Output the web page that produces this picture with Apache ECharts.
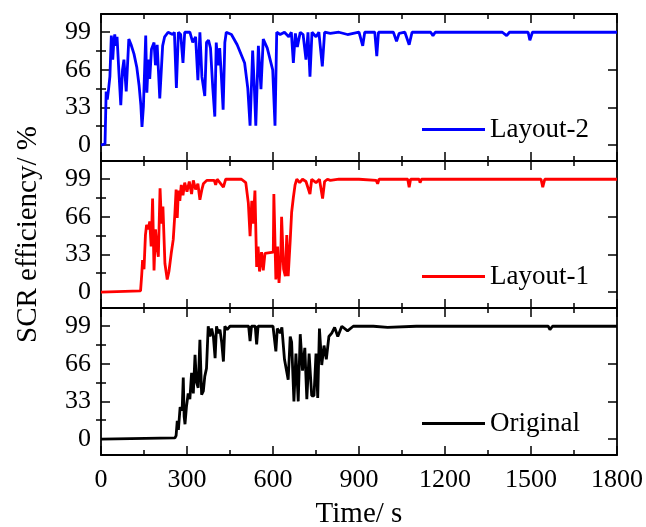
<!DOCTYPE html>
<html>
<head>
<meta charset="utf-8">
<script src="https://cdn.jsdelivr.net/npm/echarts@6/dist/echarts.min.js"></script>
<style>
  html, body { margin: 0; padding: 0; background: #fff; }
  #chart { width: 646px; height: 527px; }
</style>
</head>
<body>
<div id="chart"></div>
<script>
// y ticks (major / minor)
const yMajor = [0, 33, 66, 99]
const yMinor = [16.5, 49.5, 82.5]

// Layout-2 (blue, top panel)
const timeL2 = [0, 14, 18, 22, 26, 31, 36, 41, 45, 48, 52, 56, 62, 69, 75, 80, 88, 97, 105, 115, 125, 133, 139, 143, 148, 156, 160, 165, 170, 176, 185, 190, 196, 205, 215, 222, 234, 250, 256, 263, 270, 278, 286, 292, 310, 320, 330, 338, 345, 352, 362, 368, 375, 382, 390, 397, 402, 408, 414, 420, 426, 432, 437, 455, 475, 501, 512, 520, 529, 535, 540, 549, 558, 566, 580, 599, 607, 613, 625, 640, 655, 664, 671, 678, 685, 695, 705, 715, 722, 729, 736, 750, 760, 772, 780, 800, 830, 860, 900, 913, 920, 955, 962, 968, 1020, 1031, 1040, 1060, 1075, 1085, 1150, 1158, 1166, 1400, 1415, 1425, 1490, 1496, 1505, 1800]
const effL2 = [0, 1, 47, 40, 48, 60, 96, 75, 92, 97, 87, 95, 66, 35, 66, 75, 47, 93, 88, 80, 68, 52, 35, 16, 34, 96, 46, 75, 58, 84, 90, 70, 88, 41, 87, 95, 99, 97, 99, 50, 99, 97, 72, 99, 99, 90, 95, 57, 99, 60, 43, 90, 92, 85, 50, 25, 90, 70, 85, 60, 31, 90, 99, 97, 88, 72, 50, 17, 83, 50, 17, 87, 49, 93, 85, 66, 17, 99, 97, 99, 95, 99, 72, 98, 86, 99, 97, 75, 99, 60, 99, 95, 99, 69, 99, 98, 99, 97, 99, 87, 99, 99, 78, 99, 99, 91, 98, 99, 88, 99, 99, 96, 99, 99, 96, 99, 99, 92, 99, 99]

// Layout-1 (red, middle panel)
const timeL1 = [0, 138, 142, 145, 150, 155, 159, 165, 170, 175, 180, 185, 190, 195, 200, 206, 211, 216, 223, 231, 237, 245, 252, 258, 262, 266, 270, 275, 280, 286, 292, 300, 308, 316, 322, 330, 338, 345, 352, 357, 369, 395, 400, 405, 427, 435, 490, 505, 508, 514, 520, 526, 531, 537, 543, 548, 553, 560, 566, 572, 601, 603, 610, 616, 621, 627, 630, 637, 643, 648, 653, 660, 665, 671, 677, 683, 693, 703, 715, 729, 735, 750, 762, 773, 780, 790, 800, 830, 900, 960, 965, 970, 1070, 1075, 1080, 1110, 1113, 1118, 1535, 1541, 1548, 1800]
const effL1 = [0, 1, 15, 28, 20, 50, 59, 55, 62, 40, 82, 19, 55, 40, 31, 91, 60, 75, 25, 11, 18, 34, 46, 70, 90, 65, 89, 80, 94, 85, 96, 88, 97, 86, 98, 90, 95, 81, 90, 95, 98, 98, 94, 99, 92, 99, 99, 96, 95, 78, 49, 80, 60, 89, 22, 40, 18, 35, 19, 34, 35, 86, 11, 40, 8, 30, 66, 20, 14, 50, 14, 45, 70, 83, 94, 99, 96, 99, 97, 86, 99, 96, 99, 82, 97, 99, 98, 99, 99, 98, 95, 99, 99, 92, 99, 99, 96, 99, 99, 92, 99, 99]

// Original (black, bottom panel)
const timeOrig = [0, 258, 262, 266, 270, 276, 283, 287, 290, 293, 298, 304, 310, 316, 322, 328, 333, 339, 345, 351, 357, 362, 368, 374, 380, 386, 392, 398, 403, 409, 415, 421, 427, 432, 440, 450, 515, 520, 525, 538, 543, 548, 600, 610, 615, 625, 631, 640, 653, 660, 665, 673, 680, 688, 695, 703, 711, 718, 726, 735, 743, 750, 756, 762, 770, 778, 786, 795, 805, 815, 826, 840, 860, 880, 950, 1000, 1100, 1560, 1566, 1575, 1800]
const effOrig = [0, 1, 3, 16, 8, 28, 25, 54, 20, 13, 28, 40, 35, 58, 40, 74, 50, 45, 87, 39, 42, 55, 62, 99, 90, 97, 90, 71, 99, 93, 96, 85, 68, 99, 96, 99, 99, 86, 99, 99, 83, 99, 99, 77, 97, 93, 98, 70, 52, 90, 85, 33, 75, 33, 92, 60, 80, 35, 75, 38, 38, 75, 36, 97, 65, 82, 70, 90, 93, 98, 90, 99, 95, 99, 99, 98, 99, 99, 96, 99, 99]

const names = ['Layout-2', 'Layout-1', 'Original']
const colors = ['#0000ff', '#ff0000', '#000000']
const series_ = [[timeL2, effL2], [timeL1, effL1], [timeOrig, effOrig]]

const font = 'Liberation Serif, Times New Roman, serif'
const axisColor = '#000'
const gridTops = [14, 161, 308]
const gridH = 147
const legendTops = [111, 258, 405]

const chart = echarts.init(document.getElementById('chart'))

const grids = gridTops.map(t => ({ left: 101, right: 29, top: t, height: gridH, outerBoundsMode: 'none' }))

const xAxes = []
const yAxes = []
gridTops.forEach((t, i) => {
  ;['bottom', 'top'].forEach(pos => {
    xAxes.push({
      type: 'value',
      gridIndex: i,
      position: pos,
      min: 0,
      max: 1800,
      interval: 300,
      axisLine: { show: true, onZero: false, lineStyle: { color: axisColor, width: 1.8 } },
      axisTick: { show: true, inside: true, length: 9, lineStyle: { color: axisColor, width: 1.5 } },
      minorTick: { show: true, splitNumber: 2, length: 5, lineStyle: { color: axisColor, width: 1.5 } },
      axisLabel: {
        show: pos === 'bottom' && i === 2,
        formatter: v => String(v),
        color: '#000',
        fontFamily: font,
        fontSize: 26,
        margin: 12
      },
      splitLine: { show: false },
      name: pos === 'bottom' && i === 2 ? 'Time/ s' : '',
      nameLocation: 'middle',
      nameGap: 45,
      nameTextStyle: { color: '#000', fontFamily: font, fontSize: 29 }
    })
  })
  ;['left', 'right'].forEach(pos => {
    yAxes.push({
      type: 'value',
      gridIndex: i,
      position: pos,
      min: -14,
      max: 115,
      axisLine: { show: true, onZero: false, lineStyle: { color: axisColor, width: 1.8 } },
      axisTick: { show: true, inside: true, length: 9, customValues: yMajor, lineStyle: { color: axisColor, width: 1.5 } },
      axisLabel: {
        show: pos === 'left',
        customValues: yMajor,
        color: '#000',
        fontFamily: font,
        fontSize: 26,
        margin: 10
      },
      splitLine: { show: false },
      name: pos === 'left' && i === 1 ? 'SCR efficiency/ %' : '',
      nameLocation: 'middle',
      nameGap: 58,
      nameTextStyle: { color: '#000', fontFamily: font, fontSize: 29 }
    })
    yAxes.push({
      type: 'value',
      gridIndex: i,
      position: pos,
      min: -14,
      max: 115,
      axisLine: { show: false },
      axisTick: { show: true, inside: true, length: 5, customValues: yMinor, lineStyle: { color: axisColor, width: 1.5 } },
      axisLabel: { show: false },
      splitLine: { show: false }
    })
  })
})

const series = series_.map(([ts, vs], i) => ({
  name: names[i],
  type: 'line',
  xAxisIndex: i * 2,
  yAxisIndex: i * 4,
  data: ts.map((t, k) => [t, vs[k]]),
  showSymbol: false,
  symbol: 'none',
  lineStyle: { color: colors[i], width: 2.8 },
  itemStyle: { color: colors[i] }
}))

const legends = names.map((n, i) => ({
  data: [n],
  left: 417,
  top: legendTops[i],
  icon: 'rect',
  itemWidth: 63,
  itemHeight: 2.8,
  textStyle: { color: '#000', fontFamily: font, fontSize: 27 }
}))

chart.setOption({
  animation: false,
  grid: grids,
  xAxis: xAxes,
  yAxis: yAxes,
  legend: legends,
  series: series
})
</script>
</body>
</html>
